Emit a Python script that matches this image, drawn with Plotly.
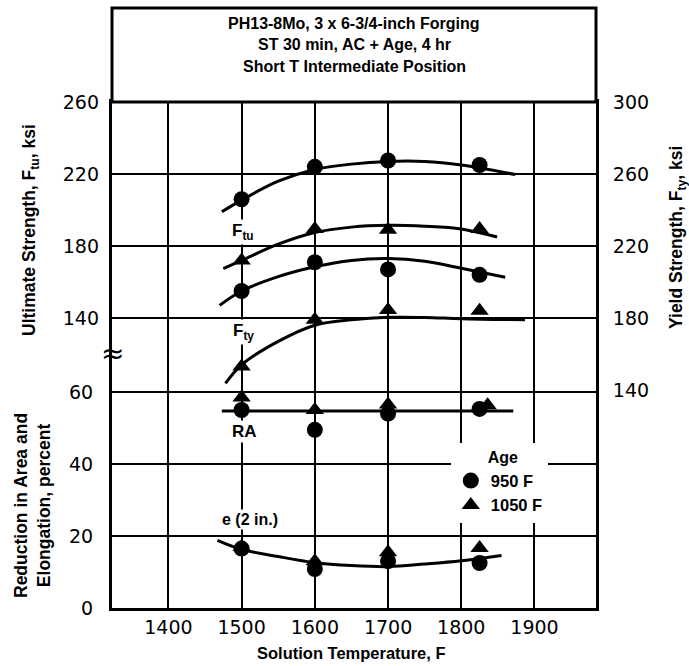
import plotly.graph_objects as go

# Solution temperatures of the test specimens (F)
temps = [1500, 1600, 1700, 1825]
ra_temps_1050 = [1500, 1600, 1700, 1836]

# Ultimate strength, ksi (left upper scale)
ftu_950 = [206, 224, 227.5, 225]
ftu_1050 = [172, 189.5, 189, 189.5]
# Yield strength, ksi (right scale)
fty_950 = [195, 211, 207, 204]
fty_1050 = [153, 179, 184.5, 184]
# Reduction in area and elongation, percent (left lower scale)
ra_950 = [55, 49.5, 54, 55.3]
ra_1050 = [58.5, 55, 56.5, 56.3]
e_950 = [16.5, 10.8, 13, 12.5]
e_1050 = [17, 13, 15.5, 16.7]

# Faired curves through the data
ftu950_fit_t = [1473, 1500, 1550, 1600, 1650, 1700, 1750, 1800, 1874]
ftu950_fit_v = [199, 205.5, 216, 222.5, 225.5, 227, 227, 225, 219.7]
ftu1050_fit_t = [1475, 1500, 1550, 1600, 1650, 1700, 1750, 1800, 1849]
ftu1050_fit_v = [167.5, 172, 181, 187.5, 190.5, 191.5, 191, 189.5, 185]
fty950_fit_t = [1470, 1500, 1550, 1600, 1650, 1700, 1750, 1800, 1860]
fty950_fit_v = [187, 195, 203, 208.5, 212, 213, 211.5, 207.6, 202.6]
fty1050_fit_t = [1478, 1500, 1550, 1600, 1650, 1700, 1750, 1800, 1887]
fty1050_fit_v = [143.7, 154, 167, 176, 179, 180.4, 180.3, 179.6, 179]
ra_fit_t = [1473, 1871]
ra_fit_v = [54.7, 54.7]
e_fit_t = [1467, 1500, 1550, 1600, 1650, 1700, 1750, 1800, 1855]
e_fit_v = [18.8, 16.3, 14.3, 12.6, 11.8, 11.5, 12.2, 13.1, 14.6]

x_ticks = [1400, 1500, 1600, 1700, 1800, 1900]
pct_ticks = [0, 20, 40, 60]
ftu_ticks = [140, 180, 220, 260]
fty_ticks = [140, 180, 220, 260, 300]

TICK_FONT = dict(family="DejaVu Sans", size=19, color="black")
LABEL_FONT = "Liberation Sans"

fig = go.Figure()

def curve(t, v, yaxis):
    fig.add_trace(go.Scatter(x=t, y=v, yaxis=yaxis, mode="lines",
                             line=dict(color="black", width=3, shape="spline"),
                             showlegend=False, hoverinfo="skip"))

def points(t, v, yaxis, symbol, name, show):
    fig.add_trace(go.Scatter(x=t, y=v, yaxis=yaxis, mode="markers", name=name,
                             legendgroup=name, showlegend=show,
                             marker=dict(symbol=symbol, size=16, color="black",
                                         line=dict(width=0))))

curve(ftu950_fit_t, ftu950_fit_v, "y2")
curve(ftu1050_fit_t, ftu1050_fit_v, "y2")
curve(fty950_fit_t, fty950_fit_v, "y3")
curve(fty1050_fit_t, fty1050_fit_v, "y3")
curve(ra_fit_t, ra_fit_v, "y")
curve(e_fit_t, e_fit_v, "y")

points(temps, ftu_950, "y2", "circle", "950 F", True)
points(temps, ftu_1050, "y2", "triangle-up", "1050 F", True)
points(temps, fty_950, "y3", "circle", "950 F", False)
points(temps, fty_1050, "y3", "triangle-up", "1050 F", False)
points(temps, ra_950, "y", "circle", "950 F", False)
points(ra_temps_1050, ra_1050, "y", "triangle-up", "1050 F", False)
points(temps, e_950, "y", "circle", "950 F", False)
points(temps, e_1050, "y", "triangle-up", "1050 F", False)

grid = dict(showgrid=True, gridcolor="black", gridwidth=2, zeroline=False, ticks="")

fig.update_layout(
    width=689, height=666,
    margin=dict(l=112, r=93, t=102, b=58),
    plot_bgcolor="white", paper_bgcolor="white",
    xaxis=dict(range=[1323, 1984], tickvals=x_ticks, tickfont=TICK_FONT,
               showline=True, linecolor="black", linewidth=3, mirror=True,
               ticklabelstandoff=0, **grid),
    yaxis=dict(range=[0, 140.56], tickvals=pct_ticks, tickfont=TICK_FONT,
               showline=True, linecolor="black", linewidth=3, side="left",
               ticklabelstandoff=12, **grid),
    yaxis2=dict(range=[-21.1, 260.01], tickvals=ftu_ticks, tickfont=TICK_FONT,
                overlaying="y", side="left", showline=False,
                ticklabelstandoff=12, **grid),
    yaxis3=dict(range=[18.9, 300.01], tickvals=fty_ticks, tickfont=TICK_FONT,
                overlaying="y", side="right", showline=True, linecolor="black",
                linewidth=3, showgrid=False, zeroline=False, ticks="",
                ticklabelstandoff=10),
    legend=dict(x=0.70, y=0.327, xanchor="left", yanchor="top",
                bgcolor="white", borderwidth=0, tracegroupgap=0,
                font=dict(family=LABEL_FONT, size=16.5, color="black", weight="bold"),
                title=dict(text="        Age", font=dict(family=LABEL_FONT, size=16,
                                                          color="black", weight="bold")),
                itemwidth=30),
)

# Heading box above the grid
fig.add_shape(type="rect", xref="paper", yref="paper", x0=0, x1=1, y0=1, y1=1 + 94 / 506,
              line=dict(color="black", width=3), fillcolor="white", layer="above")

heading = ["PH13-8Mo, 3 x 6-3/4-inch Forging",
           "ST 30 min, AC + Age, 4 hr",
           "Short T Intermediate Position"]
for i, line in enumerate(heading):
    fig.add_annotation(text=line, xref="paper", yref="paper", x=0.5,
                       y=1 + (79 - 22 * i) / 506, xanchor="center", yanchor="middle",
                       showarrow=False,
                       font=dict(family=LABEL_FONT, size=16, color="black", weight="bold"))

# Axis titles
title_font = dict(family=LABEL_FONT, size=17.5, color="black", weight="bold")
fig.add_annotation(text="Ultimate Strength, F<sub>tu</sub>, ksi", xref="paper", yref="paper",
                   x=(30 - 112) / 484, y=(608 - 230) / 506, textangle=-90, showarrow=False,
                   xanchor="center", yanchor="middle", font=title_font)
fig.add_annotation(text="Reduction in Area and<br>Elongation, percent", xref="paper", yref="paper",
                   x=(32 - 112) / 484, y=(608 - 506) / 506, textangle=-90, showarrow=False,
                   xanchor="center", yanchor="middle", font=title_font)
fig.add_annotation(text="Yield Strength, F<sub>ty</sub>, ksi", xref="paper", yref="paper",
                   x=(677 - 112) / 484, y=(608 - 238) / 506, textangle=-90, showarrow=False,
                   xanchor="center", yanchor="middle", font=title_font)
fig.add_annotation(text="Solution Temperature, F", xref="paper", yref="paper",
                   x=(351 - 112) / 484, y=(608 - 653) / 506, showarrow=False,
                   xanchor="center", yanchor="middle",
                   font=dict(family=LABEL_FONT, size=16.5, color="black", weight="bold"))

# Curve labels
lab = dict(family=LABEL_FONT, size=17, color="black", weight="bold")
fig.add_annotation(text="F<sub>tu</sub>", x=1502, y=188, yref="y2", showarrow=False,
                   font=lab, bgcolor="white")
fig.add_annotation(text="F<sub>ty</sub>", x=1502, y=132.5, yref="y2", showarrow=False,
                   font=lab, bgcolor="white")
fig.add_annotation(text="RA", x=1504, y=48.9, yref="y", showarrow=False,
                   font=lab, bgcolor="white")
fig.add_annotation(text="e (2 in.)", x=1511, y=24.6, yref="y", showarrow=False,
                   font=dict(family=LABEL_FONT, size=16, color="black", weight="bold"),
                   bgcolor="white")

# Scale break mark on the left axis
fig.add_annotation(text="≈", xref="paper", yref="paper", x=0, y=(608 - 353) / 506,
                   xanchor="center", yanchor="middle", showarrow=False,
                   font=dict(family="DejaVu Sans", size=28, color="black"))

fig.write_html("out.html")
